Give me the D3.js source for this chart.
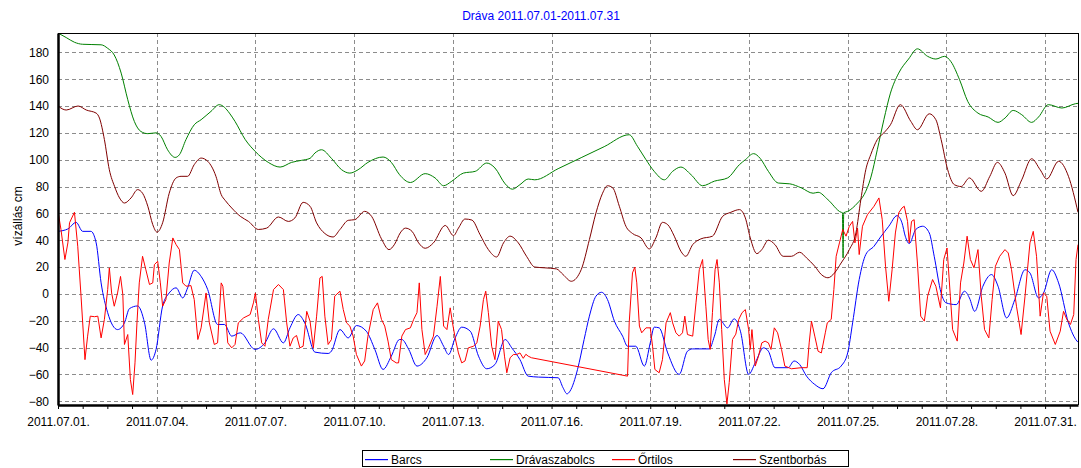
<!DOCTYPE html>
<html>
<head>
<meta charset="utf-8">
<script src="https://cdn.jsdelivr.net/npm/d3@7"></script>
<style>
  html, body { margin: 0; padding: 0; background: #fff; }
  svg { display: block; }
  text { font-family: "Liberation Sans", Arial, sans-serif; }
</style>
</head>
<body>
<svg id="chart" width="1081" height="468"></svg>
<script>
// ---- DATA (time = days since 2011.07.01 00:00, value = cm) ----
const title = "Dráva 2011.07.01-2011.07.31";
const yLabel = "vízállás cm";
const seriesNames = ["Barcs", "Drávaszabolcs", "Őrtilos", "Szentborbás"];
const seriesColors = ["#0000ff", "#008000", "#ff0000", "#800000"];
const yTicks = [-80, -60, -40, -20, 0, 20, 40, 60, 80, 100, 120, 140, 160, 180];
const xTickDays = [0, 3, 6, 9, 12, 15, 18, 21, 24, 27, 30];

const barcs = [
  [0,46.6],[0.3,48.4],[0.55,53.3],[0.75,46.6],[1.0,46.6],[1.16,38],[1.31,8.2],[1.51,-14],[1.81,-26.6],
  [2.02,-21.6],[2.17,-11],[2.42,-9],[2.63,-21.6],[2.83,-49.4],[2.98,-41.4],[3.18,-9],[3.38,0.7],[3.59,4.5],
  [3.79,-3],[3.94,4.5],[4.14,17.6],[4.35,13],[4.55,3.2],[4.85,-22.8],[5.06,-22.8],[5.28,-31.5],[5.54,-29],
  [5.99,-41.4],[6.29,-36.5],[6.55,-26],[6.85,-36.5],[7.05,-25.3],[7.3,-15.4],[7.5,-21.6],[7.81,-43.4],
  [8.21,-44.4],[8.31,-42.7],[8.57,-26.6],[8.82,-32.8],[9.07,-23.6],[9.37,-27.8],[9.63,-41.4],[9.88,-56.3],
  [10.13,-46.4],[10.38,-34],[10.45,-34],[10.66,-41.4],[10.91,-53.8],[11.21,-47.6],[11.52,-31],[11.72,-39],
  [11.87,-45.2],[12.07,-32.8],[12.27,-24.8],[12.53,-27.8],[12.78,-46.4],[13.03,-55.8],[13.28,-52.6],
  [13.59,-34],[13.79,-40.2],[14.04,-49],[14.29,-61.3],[14.6,-62],[15.2,-62.5],[15.35,-70],[15.47,-74.5],
  [15.56,-72.5],[15.79,-56.3],[15.99,-34],[16.15,-16.6],[16.35,-1.7],[16.52,1.2],[16.7,-4.2],[16.91,-20.3],
  [17.16,-31.5],[17.31,-39],[17.56,-39],[17.82,-53.8],[18.0,-36.5],[18.12,-24.8],[18.27,-25.3],[18.53,-44],
  [18.88,-60],[19.13,-42.7],[19.29,-41],[19.79,-41],[19.95,-31.5],[20.1,-19],[20.35,-25.3],[20.55,-18.6],
  [20.74,-27.8],[20.99,-60],[21.19,-51.4],[21.44,-40.2],[21.59,-42.7],[21.79,-55],[22.19,-55],[22.37,-50],
  [22.54,-52.6],[22.75,-61.3],[23.0,-67.5],[23.25,-70.7],[23.5,-58.8],[23.8,-53.8],[24.0,-44],[24.15,-21.6],
  [24.35,10.7],[24.55,29.3],[24.8,35.5],[25.0,42.4],[25.25,50.4],[25.5,58.3],[25.65,53],[25.75,43],
  [25.87,37.5],[26.07,48],[26.28,50.4],[26.48,45.4],[26.63,28],[26.84,0.7],[26.99,-6.7],[27.3,-8],
  [27.55,2],[27.7,-3],[27.86,-13],[28.11,5.7],[28.37,14.4],[28.57,5.7],[28.83,-17.9],[29.08,-4.2],
  [29.39,18],[29.54,15.6],[29.8,-3],[29.95,0.5],[30.2,18],[30.41,8.2],[30.71,-21.6],[30.97,-35.2],[31,-36]
];

const dravaszabolcs = [
  [0,194.4],[0.25,191],[0.5,187.5],[0.75,186],[1.31,185.6],[1.51,183],[1.71,178],[1.92,164.5],[2.12,144.7],
  [2.32,128.5],[2.52,121],[2.73,119.4],[2.98,120],[3.13,117.4],[3.33,107.4],[3.56,101.7],[3.69,103.7],
  [3.89,115],[4.14,126],[4.35,129.8],[4.65,136],[4.9,141],[5.06,139],[5.21,134.7],[5.38,128.5],[5.69,115],
  [6.0,106],[6.39,98],[6.75,94.5],[7.1,98],[7.4,99.5],[7.66,101],[7.81,105],[8.01,107.4],[8.31,101],
  [8.62,92.5],[8.87,90],[9.12,92.5],[9.42,98],[9.88,102],[10.13,98],[10.38,88.8],[10.71,83],[11.16,89.6],
  [11.46,86.4],[11.72,80.6],[11.97,84],[12.32,90],[12.68,91.3],[13.03,97.5],[13.28,93.8],[13.59,82],
  [13.81,78],[14.04,81.4],[14.29,85.6],[14.49,85],[15.2,93.3],[15.9,101.5],[16.6,109.7],[17.36,118.6],[17.61,110],
  [17.87,100],[18.12,91.3],[18.43,85],[18.68,91.3],[18.93,94.5],[19.24,88.8],[19.59,80.6],[19.95,84],
  [20.35,86.4],[20.71,96.3],[20.89,100],[21.14,104.5],[21.34,101],[21.59,91.3],[21.89,82.6],[22.24,82],
  [22.59,79],[22.95,75],[23.1,75.7],[23.4,70.2],[23.8,60.8],[23.84,60.5],[23.86,26.8],[23.88,60.5],
  [24.0,61.5],[24.3,67.7],[24.5,74],[24.7,86.4],[24.9,107.4],[25.1,129.8],[25.3,149.6],[25.55,164.5],
  [25.85,175],[26.12,182.6],[26.43,177],[26.68,175],[26.94,177],[27.14,173],[27.4,159.6],[27.65,143.4],
  [27.96,134.7],[28.27,131.8],[28.57,127.8],[28.78,131],[29.03,136.7],[29.29,133.5],[29.59,127.8],
  [29.8,131.8],[30.1,141],[30.51,138.5],[30.92,141.7],[31,142]
];

const ortilos = [
  [0,61.5],[0.09,48],[0.21,25.6],[0.3,38],[0.35,53],[0.5,60.8],[0.6,35.5],[0.7,-1.7],[0.82,-49],[0.9,-31.5],
  [0.98,-16.6],[1.11,-17],[1.21,-16.6],[1.31,-32.8],[1.41,-19],[1.51,3.2],[1.56,19.4],[1.63,0.7],[1.71,-9.2],
  [1.81,0.7],[1.9,13],[1.97,-0.5],[2.02,-37.7],[2.12,-30.3],[2.2,-63.8],[2.27,-75],[2.34,-51.4],[2.4,-21.6],
  [2.47,8.2],[2.57,28],[2.67,18],[2.78,7],[2.88,8.2],[2.93,21.8],[3.03,24.3],[3.11,8.2],[3.18,-9.2],
  [3.28,-4.2],[3.38,23],[3.49,41.7],[3.59,36.7],[3.69,33],[3.79,8.2],[3.89,5.7],[4.04,6.2],[4.14,-4.2],
  [4.25,-34],[4.35,-25.3],[4.5,0.7],[4.6,-21.6],[4.75,-37.7],[4.85,-36.5],[4.96,8.2],[5.01,5.7],[5.11,-21.6],
  [5.16,-36.5],[5.28,-40.2],[5.38,-37.7],[5.48,-21.6],[5.64,-17.9],[5.84,-15.4],[5.94,-6.7],[6.0,0.7],
  [6.09,-19],[6.19,-36.5],[6.29,-39],[6.39,-19],[6.55,3.2],[6.7,7],[6.85,3.2],[6.95,-21.6],[7.05,-39],
  [7.15,-32.8],[7.25,-31],[7.35,-40.2],[7.45,-39],[7.56,-13],[7.66,-20.3],[7.76,-40.2],[7.86,-16.6],
  [7.96,11.9],[8.03,13],[8.11,-16.6],[8.21,-37.7],[8.31,-34],[8.41,-1.7],[8.57,2],[8.67,-11.7],[8.77,-21.6],
  [8.87,-24],[8.97,-31.5],[9.07,-45.2],[9.22,-53.8],[9.32,-50],[9.42,-31.5],[9.58,-11.7],[9.71,-6.7],
  [9.83,-19],[9.93,-24],[10.03,-35.2],[10.13,-49],[10.28,-51.4],[10.35,-51.4],[10.45,-31.5],[10.56,-26.6],
  [10.71,-25.3],[10.81,-19],[10.91,-14],[10.98,8.2],[11.06,-26.6],[11.16,-45.2],[11.26,-40.2],[11.41,-31.5],
  [11.52,-9.2],[11.62,13],[11.72,-24],[11.82,-26.6],[11.92,-10.4],[11.99,-21.6],[12.07,-32.8],[12.17,-44],
  [12.27,-51.4],[12.37,-50],[12.47,-40.2],[12.63,-39],[12.73,-36.5],[12.83,-24],[12.93,-4.2],[13.0,2],
  [13.08,-14],[13.18,-39],[13.28,-49],[13.38,-20.3],[13.48,-26.6],[13.57,-46.4],[13.64,-58.8],[13.74,-47.6],
  [13.84,-45.2],[13.94,-45.2],[14.04,-44],[14.14,-48],[14.22,-45],[14.29,-46.4],[14.39,-47.6],
  [17.31,-61.3],[17.36,-21.6],[17.46,15.6],[17.53,20],[17.59,8.2],[17.67,-24],[17.74,-29],[17.87,-25.3],
  [18.0,-25.3],[18.07,-39],[18.14,-56.3],[18.27,-58.8],[18.37,-49],[18.48,-21.6],[18.61,-14],[18.68,-21.6],
  [18.78,-29],[18.88,-31.5],[18.98,-29],[19.05,-16.6],[19.13,-30.3],[19.29,-31.5],[19.39,-6.7],[19.49,18],
  [19.59,25.6],[19.69,-9.2],[19.76,-34],[19.82,-41.4],[19.89,-14],[19.97,18],[20.03,25.6],[20.1,8.2],
  [20.17,-26.6],[20.25,-63.8],[20.33,-82],[20.4,-66],[20.5,-34],[20.6,-30],[20.69,-19],[20.79,-14],
  [20.89,-11.7],[20.99,-26.6],[21.04,-41.4],[21.09,-26.6],[21.19,-53.8],[21.29,-46.4],[21.39,-36.5],
  [21.49,-35.2],[21.59,-36.5],[21.67,-41.4],[21.77,-25.3],[21.87,-29],[21.99,-41.4],[22.09,-53.8],
  [22.29,-55.8],[22.59,-55],[22.77,-55],[22.83,-36.5],[22.9,-20.3],[23.0,-31.5],[23.1,-42.7],[23.2,-44],
  [23.32,-29],[23.38,-21.6],[23.5,-19],[23.58,3.2],[23.65,28],[23.75,38],[23.8,43],[23.85,48],[23.95,43],
  [24.05,50.4],[24.15,54],[24.22,38],[24.3,49],[24.35,29.3],[24.45,50.4],[24.6,59],[24.8,65.3],[24.95,71.5],
  [25.05,55.3],[25.15,20.6],[25.25,-5.5],[25.35,18],[25.45,45.4],[25.55,60.3],[25.65,64],[25.72,65.3],
  [25.82,54],[25.87,38],[25.94,54],[26.02,55.3],[26.12,23],[26.22,-16.6],[26.33,-20.3],[26.43,-1.7],
  [26.58,10.7],[26.68,5.7],[26.82,-10.4],[26.92,25.6],[27.02,34.2],[27.12,-1.7],[27.19,-26.6],[27.33,-35.2],
  [27.43,8.2],[27.53,23],[27.63,43],[27.73,25.6],[27.84,19.4],[27.96,33],[28.06,-1.7],[28.16,-26.6],
  [28.29,-32.8],[28.39,-4.2],[28.49,20.6],[28.62,28],[28.78,33],[28.88,30.5],[28.98,18],[29.13,-9.2],
  [29.27,-30.3],[29.39,-1.7],[29.54,38],[29.64,46.6],[29.74,28],[29.85,-16.6],[29.95,0.7],[30.05,-1.7],
  [30.15,-27.8],[30.31,-37.7],[30.46,-27.8],[30.56,-13],[30.66,-19],[30.77,-22.8],[30.87,-15.4],
  [30.94,25.6],[31,36.7]
];

const szentborbas = [
  [0,140],[0.25,137],[0.61,140],[0.86,137],[1.16,134.7],[1.26,131],[1.41,115],[1.56,92.5],[1.72,80],
  [1.87,71.5],[2.02,67.7],[2.22,71.5],[2.42,77.7],[2.57,75],[2.73,65.3],[2.88,51.6],[3.01,46],[3.18,53],
  [3.38,75],[3.59,86.4],[3.74,87.6],[3.94,87.6],[4.14,96.3],[4.35,101.2],[4.55,98.8],[4.8,87.6],[4.96,74],
  [5.08,69.7],[5.28,64],[5.54,57.8],[5.79,54],[6.09,48],[6.34,49],[6.7,57.3],[7.0,54],[7.2,56.6],
  [7.45,68.2],[7.66,65.3],[7.86,52.9],[8.11,45],[8.36,42.4],[8.57,48],[8.82,54.8],[9.02,55.3],[9.32,61.5],
  [9.53,57.8],[9.83,41],[10.06,33],[10.23,37],[10.4,45.4],[10.56,49],[10.76,46.6],[10.96,38],[11.16,34],
  [11.41,38],[11.77,51],[12.02,43.4],[12.17,49],[12.37,55.8],[12.58,55],[12.83,44],[13.08,33],[13.33,27.5],
  [13.54,38],[13.74,43],[13.99,38],[14.24,28],[14.49,20],[14.8,19.4],[15.15,18.6],[15.35,14.4],[15.6,9.4],
  [15.9,18],[16.15,40.4],[16.35,60.3],[16.55,75],[16.7,80.6],[16.86,79],[17.06,65.3],[17.26,50.4],
  [17.46,45],[17.72,41.7],[17.97,33.5],[18.17,41.7],[18.37,53.3],[18.53,51.6],[18.73,43],[18.93,31.8],
  [19.08,28],[19.29,36.7],[19.54,41],[19.89,43],[20.2,57.8],[20.45,60.8],[20.71,62.8],[20.89,56.6],
  [21.04,41.7],[21.24,30],[21.39,33],[21.59,40],[21.79,36.7],[22.04,28],[22.29,28],[22.54,31],[22.75,26.8],
  [23.0,20.6],[23.2,14.4],[23.4,12],[23.6,15.6],[23.8,23],[24.05,33],[24.25,45.4],[24.4,70.2],[24.55,92.5],
  [24.7,103.7],[24.9,115],[25.1,120],[25.3,126],[25.6,141],[25.92,128.5],[26.12,122.3],[26.48,134.2],
  [26.68,129.8],[26.84,115],[27.04,92.5],[27.24,81.4],[27.45,80],[27.7,86.4],[28.06,76.4],[28.32,87.6],
  [28.55,98],[28.78,90],[29.03,73.2],[29.29,85],[29.59,100.7],[29.85,92.5],[30.05,85.6],[30.41,98.8],
  [30.71,87.6],[31,60.8]
];

const allSeries = [barcs, dravaszabolcs, ortilos, szentborbas];

// ---- LAYOUT ----
const svg = d3.select("#chart");
const W = 1081, H = 468;
const plot = { left: 58, right: 1078, top: 33, bottom: 405 };
const t0 = new Date(2011, 6, 1);
const DAY = 86400000;
const toDate = d => new Date(t0.getTime() + d * DAY);

const x = d3.scaleTime().domain([t0, toDate(31)]).range([plot.left, plot.right]);
const y = d3.scaleLinear().domain([-82.8, 194.4]).range([plot.bottom, plot.top]);

svg.append("rect").attr("width", W).attr("height", H).attr("fill", "#fff");

// title
svg.append("text").attr("x", 541).attr("y", 20).attr("text-anchor", "middle")
  .attr("font-size", 12).attr("fill", "#0000ff").text(title);

// gridlines
const grid = svg.append("g").attr("stroke", "#8c8c8c").attr("stroke-dasharray", "4,3").attr("stroke-width", 1);
yTicks.forEach(v => {
  grid.append("line").attr("x1", plot.left).attr("x2", plot.right)
    .attr("y1", Math.round(y(v)) + 0.5).attr("y2", Math.round(y(v)) + 0.5);
});
xTickDays.forEach(d => {
  if (d === 0) return;
  const xx = Math.round(x(toDate(d))) + 0.5;
  grid.append("line").attr("x1", xx).attr("x2", xx).attr("y1", plot.top).attr("y2", plot.bottom);
});

// clip
svg.append("clipPath").attr("id", "clip").append("rect")
  .attr("x", plot.left).attr("y", plot.top).attr("width", plot.right - plot.left).attr("height", plot.bottom - plot.top);

const lineGen = d3.line().x(p => x(toDate(p[0]))).y(p => y(p[1]));
const lines = svg.append("g").attr("clip-path", "url(#clip)");
allSeries.forEach((s, i) => {
  lines.append("path").datum(s)
    .attr("d", lineGen.curve(i === 2 ? d3.curveLinear : d3.curveMonotoneX))
    .attr("fill", "none").style("stroke", seriesColors[i]).attr("stroke-width", 1);
});

// frame
svg.append("line").attr("x1", plot.left).attr("x2", plot.right + 0.5).attr("y1", plot.top + 0.5).attr("y2", plot.top + 0.5).attr("stroke", "#000");
svg.append("line").attr("x1", plot.right + 0.5).attr("x2", plot.right + 0.5).attr("y1", plot.top).attr("y2", plot.bottom).attr("stroke", "#000");

// y axis
const yAxis = d3.axisLeft(y).tickValues(yTicks).tickSize(0).tickPadding(8);
const yg = svg.append("g").attr("transform", `translate(${plot.left},0)`).call(yAxis);
yg.select(".domain").attr("stroke", "#000").attr("stroke-width", 2.5);
yg.selectAll("text").attr("font-size", 12).attr("fill", "#000")
  .attr("font-family", "Liberation Sans, Arial, sans-serif").attr("x", -9);

// x axis (minor ticks every 18 h)
const minor = d3.range(0, 31.01, 0.75).map(toDate);
const xMinor = d3.axisBottom(x).tickValues(minor).tickSize(4).tickFormat("");
const xmg = svg.append("g").attr("transform", `translate(0,${plot.bottom})`).call(xMinor);
xmg.select(".domain").remove();
const fmt = d3.timeFormat("%Y.%m.%d.");
const xAxis = d3.axisBottom(x).tickValues(xTickDays.map(toDate)).tickSize(0).tickPadding(12).tickFormat(fmt);
const xg = svg.append("g").attr("transform", `translate(0,${plot.bottom})`).call(xAxis);
xg.select(".domain").attr("stroke", "#000").attr("stroke-width", 2.5);
xg.selectAll("text").attr("font-size", 12).attr("fill", "#000")
  .attr("font-family", "Liberation Sans, Arial, sans-serif");

// y label
svg.append("text").attr("transform", "translate(22,216) rotate(-90)")
  .attr("text-anchor", "middle").attr("font-size", 12).attr("fill", "#000").text(yLabel);

// legend
const lg = svg.append("g");
lg.append("rect").attr("x", 362.5).attr("y", 450.5).attr("width", 486).attr("height", 16)
  .attr("fill", "#fff").attr("stroke", "#000");
const legX = [365, 490, 612, 733];
seriesNames.forEach((n, i) => {
  lg.append("rect").attr("x", legX[i]).attr("y", 459).attr("width", 23).attr("height", 1.2)
    .style("fill", seriesColors[i]);
  lg.append("text").attr("x", legX[i] + 26).attr("y", 463.5).attr("font-size", 12).attr("fill", "#000").text(n);
});
</script>
</body>
</html>
